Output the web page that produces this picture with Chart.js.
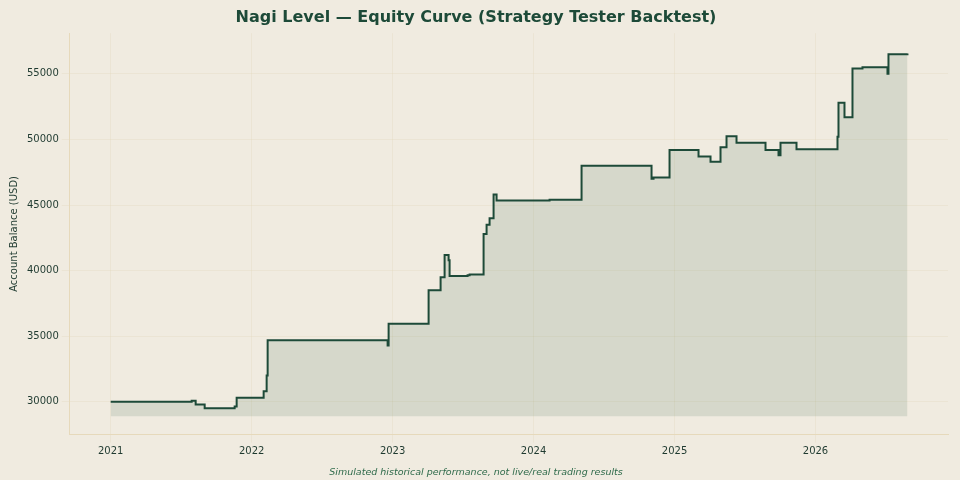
<!DOCTYPE html><html><head><meta charset="utf-8">
<script src="https://cdn.jsdelivr.net/npm/chart.js@4"></script>
<style>html,body{margin:0;background:#f0ebe0;}#w{width:960px;height:480px;}</style></head><body><div id="w"><canvas id="c"></canvas></div>
<script>
const px=[111,192,196,205,235,237,264,267,268,388,389,429,441,445,449,450,468,470,484,487,490,494,497,550,582,652,654,670,699,711,721,727,737,766,779,781,797,838,839,845,853,863,888,889,908];
const balance=[30000,30080,29800,29500,29650,30300,30800,32000,34700,34300,35950,38500,39500,41200,40800,39600,39650,39700,42800,43500,44000,45800,45350,45400,48000,47000,47100,49200,48700,48300,49400,50250,49750,49200,48800,49750,49250,50200,52800,51700,55400,55500,55000,56500,56550];
const dates=px.map(p=>2021+(p-111)/141);
const yearTicks=[2021,2022,2023,2024,2025,2026];
const pts=dates.map((d,i)=>({x:d,y:balance[i]}));
const ink='#1d4a38';
new Chart(document.getElementById('c'),{type:'line',
data:{datasets:[{data:pts,stepped:'before',borderColor:ink,borderWidth:2,pointRadius:0,fill:{value:28900},backgroundColor:'rgba(40,90,60,0.13)'}]},
options:{responsive:true,maintainAspectRatio:false,animation:false,
layout:{padding:{left:4,right:12,top:4,bottom:0}},
plugins:{legend:{display:false},
title:{display:true,text:'Nagi Level — Equity Curve (Strategy Tester Backtest)',color:ink,font:{family:'DejaVu Sans',size:16,weight:'bold'},padding:{top:4,bottom:6}},
subtitle:{display:true,position:'bottom',text:'Simulated historical performance, not live/real trading results',color:'#2e6a4a',font:{family:'DejaVu Sans',size:9.5,style:'italic'},padding:{top:6,bottom:2}}},
scales:{x:{type:'linear',min:2020.71,max:2026.94,afterBuildTicks:a=>{a.ticks=yearTicks.map(v=>({value:v}));},
ticks:{color:'#1f3a30',font:{family:'DejaVu Sans',size:10},callback:v=>String(v)},grid:{color:'rgba(220,205,170,0.22)'},border:{color:'#e6d9bb'}},
y:{min:27500,max:58100,afterBuildTicks:a=>{a.ticks=[30000,35000,40000,45000,50000,55000].map(v=>({value:v}));},
title:{display:true,text:'Account Balance (USD)',color:'#1f3a30',font:{family:'DejaVu Sans',size:10}},
ticks:{color:'#1f3a30',font:{family:'DejaVu Sans',size:10},callback:v=>String(v)},grid:{color:'rgba(220,205,170,0.22)'},border:{color:'#e6d9bb'}}}}});
</script></body></html>
